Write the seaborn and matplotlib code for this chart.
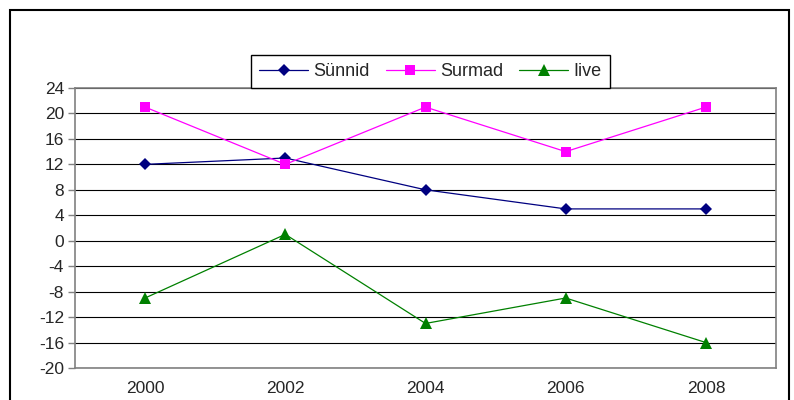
import numpy as np
import pandas as pd
import seaborn as sns
import matplotlib.pyplot as plt
from matplotlib.patches import Rectangle

# data

years = ["2000", "2002", "2004", "2006", "2008"]
synnid = [12, 13, 8, 5, 5]
surmad = [21, 12, 21, 14, 21]
iive = [-9, 1, -13, -9, -16]

series_names = ["Sünnid", "Surmad", "Iive"]
colors = ["#000080", "#ff00ff", "#008000"]
markers = ["D", "s", "^"]
marker_sizes = [6, 6.5, 8]

df = pd.DataFrame({
    "x": list(range(len(years))) * 3,
    "value": synnid + surmad + iive,
    "series": [s for s in series_names for _ in years]
})

sns.set_style("white")
plt.rcParams["font.family"] = ["Liberation Sans", "DejaVu Sans"]
plt.rcParams["axes.unicode_minus"] = False

fig = plt.figure(figsize=(7.94, 4.0), dpi=100)
ax = fig.add_axes([75 / 794, 1 - 368 / 400, 701 / 794, 280 / 400])

sns.lineplot(
    data=df,
    x="x",
    y="value",
    hue="series",
    style="series",
    markers=dict(zip(series_names, markers)),
    dashes=False,
    palette=dict(zip(series_names, colors)),
    linewidth=0.9,
    markeredgewidth=0,
    ax=ax
)

for line, ms in zip(ax.lines, marker_sizes):
    line.set_markersize(ms)

ax.set_xlim(-0.5, 4.5)
ax.set_ylim(-20, 24)
ax.set_yticks(np.arange(-20, 25, 4))
ax.set_xticks(range(len(years)))
ax.set_xticklabels(years)
ax.set_xlabel("")
ax.set_ylabel("")

ax.grid(axis="y", color="black", linewidth=0.8)
ax.set_axisbelow(True)
for side in ["left", "right", "top", "bottom"]:
    ax.spines[side].set_visible(True)
    ax.spines[side].set_color("#808080")
    ax.spines[side].set_linewidth(1.2)

ax.tick_params(axis="y", which="both", left=True, length=5, width=1, color="#808080",
               labelsize=12.5, pad=3)
ax.tick_params(axis="x", bottom=False, labelsize=12.5, pad=6)

handles, labels = ax.get_legend_handles_labels()
for h, ms in zip(handles, marker_sizes):
    h.set_markersize(ms)
ax.legend(
    handles, labels,
    ncol=3,
    loc="lower left",
    bbox_to_anchor=(251 / 794, 1 - 88 / 400),
    bbox_transform=fig.transFigure,
    frameon=True,
    fancybox=False,
    edgecolor="black",
    framealpha=1,
    fontsize=13,
    handlelength=2.7,
    handletextpad=0.3,
    columnspacing=0.9,
    borderpad=0.45,
    borderaxespad=0
)
ax.get_legend().get_frame().set_linewidth(1)

# outer chart border
fig.patches.append(Rectangle((10 / 794, -0.05), 779 / 794, 1 - 10 / 400 + 0.05,
                             transform=fig.transFigure, fill=False,
                             edgecolor="black", linewidth=1.5))

fig.savefig("out.png", dpi=100)
